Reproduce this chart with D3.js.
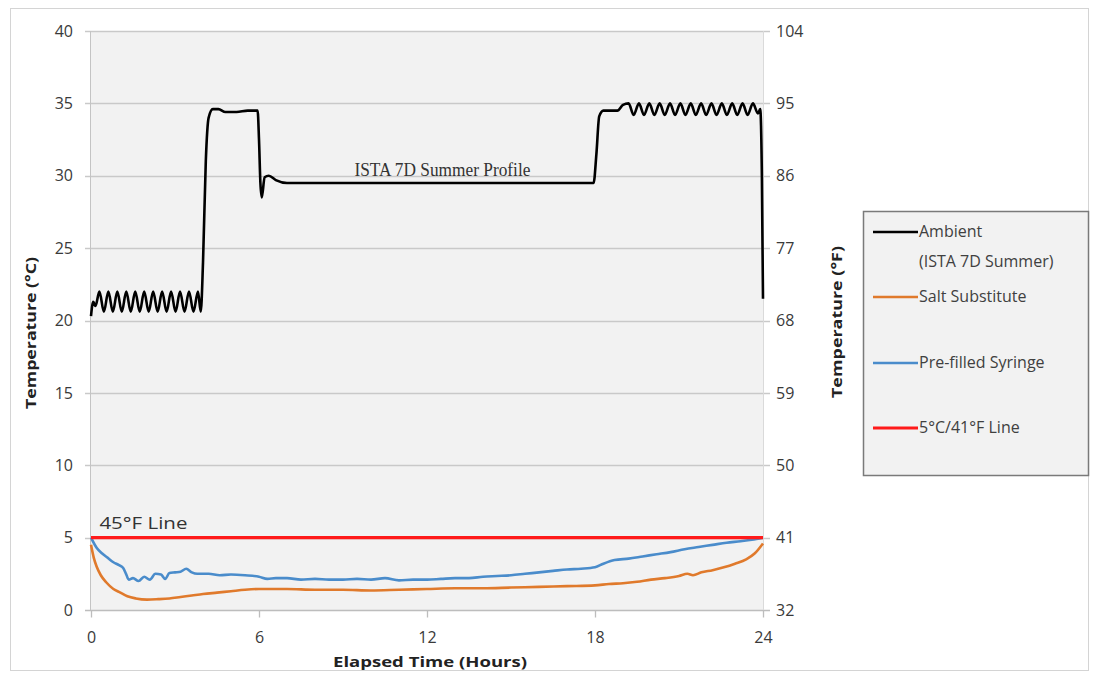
<!DOCTYPE html>
<html>
<head>
<meta charset="utf-8">
<script src="https://cdn.jsdelivr.net/npm/d3@7"></script>
<style>
  body { margin: 0; background: #fff; }
  svg { display: block; font-family: "Open Sans", "Liberation Sans", Arial, sans-serif; }
</style>
</head>
<body>
<div id="chart"></div>
<script>
// ambient chamber temperature (ISTA 7D summer), [hours, degC]
const ambient = [
  [0, 20.3], [0.08, 21.3], [0.16, 21.0], [0.3, 22.0], [0.46, 20.6],
  [0.62, 22.0], [0.78, 20.6], [0.94, 22.0], [1.1, 20.6], [1.26, 22.0],
  [1.42, 20.6], [1.58, 22.0], [1.74, 20.6], [1.9, 22.0], [2.06, 20.6],
  [2.22, 22.0], [2.38, 20.6], [2.54, 22.0], [2.7, 20.6], [2.86, 22.0],
  [3.02, 20.6], [3.18, 22.0], [3.34, 20.6], [3.5, 22.0], [3.66, 20.6],
  [3.82, 22.0], [3.92, 20.6], [4.0, 24.0], [4.1, 31.0], [4.2, 34.0],
  [4.35, 34.6], [4.55, 34.6], [4.8, 34.4], [5.2, 34.4], [5.6, 34.5],
  [5.95, 34.5], [6.0, 32.5], [6.05, 29.5], [6.1, 28.5], [6.2, 29.9],
  [6.35, 30.0], [6.6, 29.7], [7.0, 29.5], [10, 29.5], [14, 29.5],
  [17.95, 29.5], [18.05, 31.5], [18.15, 34.1], [18.3, 34.5], [18.8, 34.5],
  [19.0, 34.9], [19.2, 35.0], [19.38, 34.2], [19.57, 35.0], [19.75, 34.2],
  [19.94, 35.0], [20.12, 34.2], [20.31, 35.0], [20.49, 34.2], [20.68, 35.0],
  [20.86, 34.2], [21.05, 35.0], [21.23, 34.2], [21.42, 35.0], [21.6, 34.2],
  [21.79, 35.0], [21.97, 34.2], [22.16, 35.0], [22.34, 34.2], [22.53, 35.0],
  [22.71, 34.2], [22.9, 35.0], [23.08, 34.2], [23.27, 35.0], [23.45, 34.2],
  [23.64, 35.0], [23.82, 34.3], [23.9, 34.6], [23.96, 30.0], [24.0, 21.5]
];

// salt substitute product temperature
const salt = [
  [0, 4.5], [0.1, 3.6], [0.2, 3.0], [0.35, 2.4], [0.55, 1.9], [0.8, 1.45],
  [1.05, 1.2], [1.3, 0.95], [1.6, 0.8], [2.0, 0.72], [2.4, 0.75], [2.8, 0.8],
  [3.2, 0.9], [3.6, 1.0], [4.0, 1.1], [4.5, 1.2], [5.0, 1.3], [5.5, 1.4],
  [6.0, 1.45], [7, 1.45], [8, 1.4], [9, 1.4], [10, 1.35], [11, 1.4],
  [12, 1.45], [13, 1.5], [14, 1.5], [15, 1.55], [16, 1.6], [17, 1.65],
  [18, 1.7], [18.5, 1.8], [19, 1.85], [19.5, 1.95], [20, 2.1], [20.5, 2.2],
  [21, 2.35], [21.3, 2.5], [21.5, 2.4], [21.8, 2.6], [22.2, 2.75],
  [22.6, 2.95], [23.0, 3.2], [23.4, 3.5], [23.7, 3.9], [24, 4.6]
];

// pre-filled syringe product temperature
const syringe = [
  [0, 5.0], [0.2, 4.3], [0.4, 3.9], [0.6, 3.6], [0.8, 3.3], [1.0, 3.1],
  [1.15, 2.9], [1.25, 2.5], [1.35, 2.1], [1.5, 2.2], [1.7, 2.0], [1.9, 2.3],
  [2.1, 2.1], [2.3, 2.5], [2.5, 2.45], [2.65, 2.15], [2.8, 2.55], [3.0, 2.6],
  [3.2, 2.65], [3.4, 2.85], [3.6, 2.6], [3.8, 2.5], [4.2, 2.5], [4.6, 2.4],
  [5.0, 2.45], [5.5, 2.4], [6.0, 2.3], [6.3, 2.15], [6.6, 2.2], [7.0, 2.2],
  [7.5, 2.1], [8.0, 2.15], [8.5, 2.1], [9.0, 2.1], [9.5, 2.15], [10.0, 2.1],
  [10.5, 2.2], [11.0, 2.05], [11.5, 2.1], [12.0, 2.1], [12.5, 2.15],
  [13.0, 2.2], [13.5, 2.2], [14.0, 2.3], [14.5, 2.35], [15.0, 2.4],
  [15.5, 2.5], [16.0, 2.6], [16.5, 2.7], [17.0, 2.8], [17.5, 2.85],
  [18.0, 2.95], [18.3, 3.2], [18.7, 3.45], [19.2, 3.55], [19.7, 3.7],
  [20.2, 3.85], [20.7, 4.0], [21.2, 4.2], [21.7, 4.35], [22.2, 4.5],
  [22.7, 4.65], [23.2, 4.75], [23.6, 4.85], [24.0, 5.0]
];

const limitLine = [[0, 5], [24, 5]];

const xTicks = [0, 6, 12, 18, 24];
const cTicks = [0, 5, 10, 15, 20, 25, 30, 35, 40];
const fTicks = [32, 41, 50, 59, 68, 77, 86, 95, 104];

const legendItems = [
  { label: ["Ambient", "(ISTA 7D Summer)"], color: "#000000" },
  { label: ["Salt Substitute"], color: "#e07a2c" },
  { label: ["Pre-filled Syringe"], color: "#4a8ccb" },
  { label: ["5\u00b0C/41\u00b0F Line"], color: "#ff1a1a" }
];

const W = 1093, H = 677;
const margin = { top: 31, right: 330, bottom: 67, left: 91 };
const pw = W - margin.left - margin.right;   // 672
const ph = H - margin.top - margin.bottom;   // 579

const svg = d3.select("#chart").append("svg")
  .attr("width", W)
  .attr("height", H);

// outer chart frame
svg.append("rect")
  .attr("x", 10.5).attr("y", 8.5)
  .attr("width", 1078).attr("height", 662)
  .attr("fill", "#fff")
  .attr("stroke", "#d4d4d4");

const x = d3.scaleLinear().domain([0, 24]).range([margin.left, margin.left + pw]);
const y = d3.scaleLinear().domain([0, 40]).range([margin.top + ph, margin.top]);
const yF = d3.scaleLinear().domain([32, 104]).range([margin.top + ph, margin.top]);

// plot background
svg.append("rect")
  .attr("x", x(0)).attr("y", y(40))
  .attr("width", x(24) - x(0)).attr("height", y(0) - y(40))
  .attr("fill", "#f2f2f2");

// gridlines (extend a bit past the plot as tick marks)
svg.append("g")
  .selectAll("line")
  .data(cTicks)
  .join("line")
  .attr("x1", x(0) - 6).attr("x2", x(24) + 7)
  .attr("y1", d => Math.round(y(d)) + 0.5)
  .attr("y2", d => Math.round(y(d)) + 0.5)
  .attr("stroke", d => d === 0 ? "#bdbdbd" : "#c9c9c9")
  .attr("stroke-width", 1.3);

// vertical plot edges
svg.append("line")
  .attr("x1", x(0) - 0.5).attr("x2", x(0) - 0.5)
  .attr("y1", y(40)).attr("y2", y(0))
  .attr("stroke", "#c4c4c4");
svg.append("line")
  .attr("x1", x(24) + 0.5).attr("x2", x(24) + 0.5)
  .attr("y1", y(40)).attr("y2", y(0))
  .attr("stroke", "#dadada");

const tickFont = "'Open Sans', 'Liberation Sans', Arial, sans-serif";

// x axis
const xAxis = svg.append("g")
  .attr("transform", `translate(0,${Math.round(y(0)) + 0.5})`)
  .call(d3.axisBottom(x).tickValues(xTicks).tickSize(7).tickSizeOuter(0).tickPadding(14));
xAxis.select(".domain").remove();
xAxis.selectAll(".tick line").attr("stroke", "#bdbdbd").attr("stroke-width", 1.3);
xAxis.selectAll(".tick text")
  .attr("font-size", 16).attr("fill", "#3a3a3a")
  .attr("font-family", tickFont);

// left axis labels
const yAxis = svg.append("g")
  .attr("transform", `translate(${x(0)},0)`)
  .call(d3.axisLeft(y).tickValues(cTicks).tickSize(0).tickPadding(18));
yAxis.select(".domain").remove();
yAxis.selectAll(".tick text")
  .attr("font-size", 16).attr("fill", "#3a3a3a")
  .attr("font-family", tickFont);

// right axis labels
const yAxisR = svg.append("g")
  .attr("transform", `translate(${x(24)},0)`)
  .call(d3.axisRight(yF).tickValues(fTicks).tickSize(0).tickPadding(13));
yAxisR.select(".domain").remove();
yAxisR.selectAll(".tick text")
  .attr("font-size", 16).attr("fill", "#3a3a3a")
  .attr("font-family", tickFont);

// series
const line = d3.line()
  .x(d => x(d[0]))
  .y(d => y(d[1]))
  .curve(d3.curveMonotoneX);

svg.append("path")
  .datum(salt)
  .attr("fill", "none").attr("stroke", legendItems[1].color)
  .attr("stroke-width", 2.6).attr("d", line);

svg.append("path")
  .datum(syringe)
  .attr("fill", "none").attr("stroke", legendItems[2].color)
  .attr("stroke-width", 2.6).attr("d", line);

svg.append("path")
  .datum(limitLine)
  .attr("fill", "none").attr("stroke", legendItems[3].color)
  .attr("stroke-width", 3.2).attr("d", line);

svg.append("path")
  .datum(ambient)
  .attr("fill", "none").attr("stroke", legendItems[0].color)
  .attr("stroke-width", 2.6).attr("stroke-linejoin", "round")
  .attr("d", line);

// annotations
svg.append("text")
  .attr("x", x(12.55)).attr("y", y(30.0))
  .attr("text-anchor", "middle")
  .attr("font-family", "'Liberation Serif', 'DejaVu Serif', serif")
  .attr("font-size", 18).attr("fill", "#333")
  .attr("textLength", 176).attr("lengthAdjust", "spacingAndGlyphs")
  .text("ISTA 7D Summer Profile");

svg.append("text")
  .attr("x", x(0.3)).attr("y", y(5) - 9)
  .attr("font-size", 17).attr("fill", "#333")
  .attr("textLength", 88).attr("lengthAdjust", "spacingAndGlyphs")
  .text("45\u00b0F Line");

// axis titles
svg.append("text")
  .attr("transform", `translate(36,333) rotate(-90)`)
  .attr("text-anchor", "middle")
  .attr("font-size", 14).attr("font-weight", "bold").attr("fill", "#222")
  .attr("textLength", 152).attr("lengthAdjust", "spacingAndGlyphs")
  .text("Temperature (\u00b0C)");

svg.append("text")
  .attr("transform", `translate(842,322) rotate(-90)`)
  .attr("text-anchor", "middle")
  .attr("font-size", 14).attr("font-weight", "bold").attr("fill", "#222")
  .attr("textLength", 152).attr("lengthAdjust", "spacingAndGlyphs")
  .text("Temperature (\u00b0F)");

svg.append("text")
  .attr("x", 430).attr("y", 667)
  .attr("text-anchor", "middle")
  .attr("font-size", 14).attr("font-weight", "bold").attr("fill", "#222")
  .attr("textLength", 194).attr("lengthAdjust", "spacingAndGlyphs")
  .text("Elapsed Time (Hours)");

// legend
const legend = svg.append("g").attr("transform", "translate(863,211)");
legend.append("rect")
  .attr("x", 0.5).attr("y", 0.5)
  .attr("width", 225).attr("height", 264)
  .attr("fill", "#f2f2f2")
  .attr("stroke", "#7a7a7a").attr("stroke-width", 1.5);

const legendY = [21, 86, 152, 217];
const entries = legend.selectAll("g.entry")
  .data(legendItems)
  .join("g")
  .attr("class", "entry")
  .attr("transform", (d, i) => `translate(10,${legendY[i]})`);

entries.append("line")
  .attr("x1", 0).attr("x2", 45)
  .attr("stroke", d => d.color)
  .attr("stroke-width", (d, i) => i === 3 ? 3.2 : 2.4);

entries.append("text")
  .attr("x", 46).attr("y", 5)
  .attr("font-size", 16).attr("fill", "#404040")
  .selectAll("tspan")
  .data(d => d.label)
  .join("tspan")
  .attr("x", 46)
  .attr("dy", (d, i) => i === 0 ? 0 : 30)
  .text(d => d);
</script>
</body>
</html>
